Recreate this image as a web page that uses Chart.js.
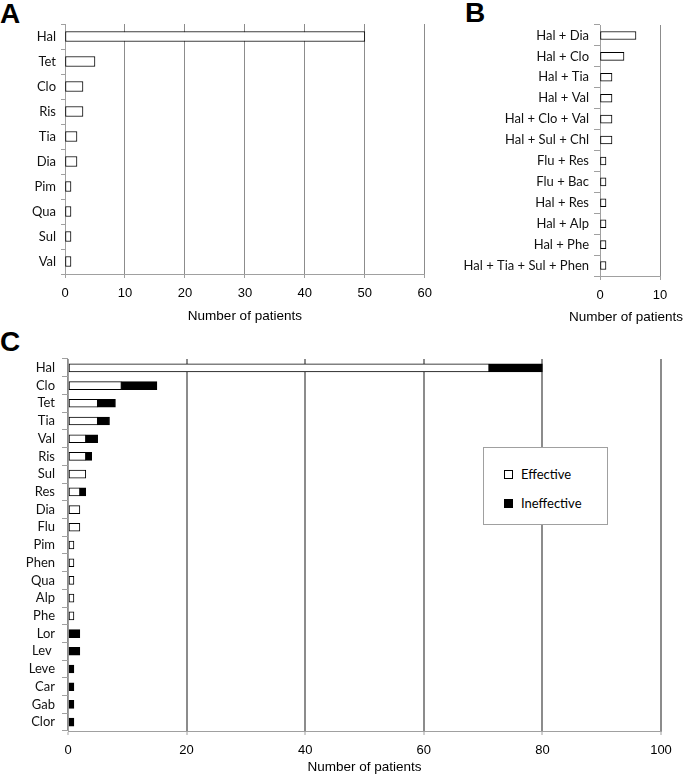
<!DOCTYPE html>
<html><head><meta charset="utf-8">
<script src="https://cdn.jsdelivr.net/npm/chart.js@4"></script>
<style>
html,body{margin:0;padding:0;background:#fff}
body{width:685px;height:782px;position:relative;overflow:hidden}
canvas{position:absolute;display:block}
.letter{position:absolute;font-family:"Liberation Sans",Arial,sans-serif;font-weight:bold;font-size:28px;line-height:28px;color:#000}
#legend{position:absolute;left:483px;top:447px;width:125px;height:78px;border:1px solid #a0a0a0;background:#fff;box-sizing:border-box;font-family:Lato,"Open Sans",sans-serif;font-size:13px;color:#000}
#legend .sw{position:absolute;left:20px;width:9px;height:9px;box-sizing:border-box;border:1px solid #000}
#legend .tx{position:absolute;left:37px;line-height:16px}
#titleB{position:absolute;left:569px;top:309px;white-space:nowrap;font-family:"Liberation Sans",Arial,sans-serif;font-size:13.5px;line-height:16px;color:#000}
</style>
</head><body>
<div class="letter" style="left:0;top:0">A</div>
<div class="letter" style="left:465px;top:-1px">B</div>
<div class="letter" style="left:0;top:328px">C</div>
<canvas id="cA" width="440" height="330" style="left:0;top:0"></canvas>
<canvas id="cB" width="245" height="330" style="left:440px;top:0"></canvas>
<canvas id="cC" width="685" height="452" style="left:0;top:330px"></canvas>
<div id="titleB">Number of patients</div>
<div id="legend">
  <div class="sw" style="top:22px;background:#fff"></div><div class="tx" style="top:18px">Effective</div>
  <div class="sw" style="top:51px;background:#000"></div><div class="tx" style="top:47px">Ineffective</div>
</div>
<script>
// Panel A: monotherapy
const panelACategories = ["Hal","Tet","Clo","Ris","Tia","Dia","Pim","Qua","Sul","Val"];
const panelAValues = [50,5,3,3,2,2,1,1,1,1];
const panelATicks = [0,10,20,30,40,50,60];

// Panel B: combinations
const panelBCategories = ["Hal + Dia","Hal + Clo","Hal + Tia","Hal + Val","Hal + Clo + Val","Hal + Sul + Chl","Flu + Res","Flu + Bac","Hal + Res","Hal + Alp","Hal + Phe","Hal + Tia + Sul + Phen"];
const panelBValues = [6,4,2,2,2,2,1,1,1,1,1,1];
const panelBTicks = [0,10];

// Panel C: effective / ineffective
const panelCCategories = ["Hal","Clo","Tet","Tia","Val","Ris","Sul","Res","Dia","Flu","Pim","Phen","Qua","Alp","Phe","Lor","Lev ","Leve","Car","Gab","Clor"];
const panelCEffective   = [71,9,5,5,3,3,3,2,2,2,1,1,1,1,1,0,0,0,0,0,0];
const panelCIneffective = [9,6,3,2,2,1,0,1,0,0,0,0,0,0,0,2,2,1,1,1,1];
const panelCTicks = [0,20,40,60,80,100];
const panelCSeries = ["Effective","Ineffective"];

const catFont = {family:"Lato, 'Open Sans', sans-serif", size:13};
const numFont = {family:"'Liberation Sans', Arial, sans-serif", size:13};
const titleFont = {family:"'Liberation Sans', Arial, sans-serif", size:13.5};

function build(id, cfg){
  const ticks = cfg.ticks;
  new Chart(document.getElementById(id), {
    type:'bar',
    data:{labels:cfg.labels, datasets:cfg.datasets},
    options:{
      indexAxis:'y',
      responsive:false,
      animation:false,
      devicePixelRatio:1,
      layout:{padding:{left:0,right:cfg.padRight,top:cfg.padTop,bottom:0}},
      plugins:{legend:{display:false},tooltip:{enabled:false}},
      scales:{
        x:{
          stacked:!!cfg.stacked,
          min:ticks[0], max:ticks[ticks.length-1],
          afterBuildTicks:(s)=>{ s.ticks = ticks.map(v=>({value:v})); },
          afterFit:(s)=>{ s.height = cfg.xHeight; },
          grid:{color:cfg.gridColor, lineWidth:cfg.gridWidth, drawTicks:true, tickLength:4, tickColor:'#a0a0a0', tickWidth:1},
          border:{color:'#a0a0a0', width:1},
          ticks:{font:numFont, color:'#000', padding:cfg.xTickPad, maxRotation:0, autoSkip:false},
          title:{display:cfg.showTitle, text:'Number of patients', font:titleFont, color:'#000', padding:{top:0,bottom:cfg.titlePad}}
        },
        y:{
          stacked:!!cfg.stacked,
          afterFit:(s)=>{ s.width = cfg.yWidth; },
          grid:{display:true, drawOnChartArea:false, drawTicks:true, tickLength:cfg.yTickLen, color:'#a0a0a0', offset:true},
          border:{color:'#a0a0a0', width:1},
          ticks:{font:catFont, color:'#111', padding:cfg.yTickPad, autoSkip:false}
        }
      }
    }
  });
}

build('cA', {
  labels:panelACategories, ticks:panelATicks, showTitle:true,
  datasets:[{data:panelAValues, backgroundColor:'#fff', borderColor:'#000', borderWidth:1, borderSkipped:false, barThickness:10}],
  padRight:15, padTop:24, xHeight:56, yWidth:65, yTickLen:4, yTickPad:5, xTickPad:8, titlePad:6,
  gridColor:'#8c8c8c', gridWidth:1
});

build('cB', {
  labels:panelBCategories, ticks:panelBTicks, showTitle:false,
  datasets:[{data:panelBValues, backgroundColor:'#fff', borderColor:'#000', borderWidth:1, borderSkipped:false, barThickness:8}],
  padRight:25, padTop:25, xHeight:54, yWidth:160, yTickLen:6, yTickPad:5, xTickPad:8, titlePad:6,
  gridColor:'#8c8c8c', gridWidth:1
});

build('cC', {
  labels:panelCCategories, ticks:panelCTicks, stacked:true, showTitle:true,
  datasets:[
    {label:panelCSeries[0], data:panelCEffective, backgroundColor:'#fff', borderColor:'#000', borderWidth:1, borderSkipped:false, barThickness:8},
    {label:panelCSeries[1], data:panelCIneffective, backgroundColor:'#000', borderColor:'#000', borderWidth:1, borderSkipped:false, barThickness:8}
  ],
  padRight:24, padTop:29, xHeight:51, yWidth:68, yTickLen:6, yTickPad:7, xTickPad:8, titlePad:7,
  gridColor:'#8c8c8c', gridWidth:2
});
</script>
</body></html>
